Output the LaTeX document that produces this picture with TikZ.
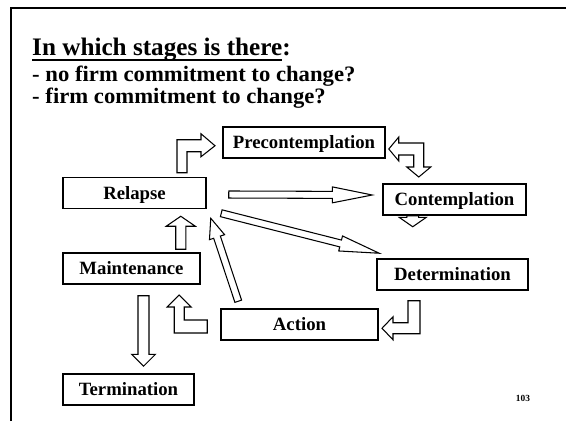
\documentclass[tikz,border=0pt]{standalone}
\usepackage{fontspec}
\setmainfont{Liberation Serif}
\newfontfamily\questfont{Liberation Serif}[FakeStretch=1.03]
\usetikzlibrary{calc}

% hollow straight arrow: from, to, shaft half width, head half width, head length
\newcommand{\hollowarrow}[5]{%
  \path ($(#2)!#5!(#1)$) coordinate (hb);
  \draw[blockarrow] ($(#1)!#3!90:(#2)$) -- ($(hb)!#3!90:(#2)$) -- ($(hb)!#4!90:(#2)$) -- (#2)
    -- ($(hb)!#4!-90:(#2)$) -- ($(hb)!#3!-90:(#2)$) -- ($(#1)!#3!-90:(#2)$) -- cycle;
}

\begin{document}
\begin{tikzpicture}[x=0.03cm, y=-0.03cm,
  stage/.style={draw, line width=1.3pt, minimum height=0.93cm, inner sep=0pt, text height=11pt, text depth=0pt, font=\fontsize{16}{18}\selectfont\bfseries},
  heading/.style={anchor=base west, inner sep=0pt, text depth=0pt},
  blockarrow/.style={draw, line width=0.9pt, fill=white, line join=miter}]

\useasboundingbox (0,0) rectangle (566,421);
\draw[line width=1.2pt] (11,421) -- (11,8) -- (566,8);

% QUESTION

\node[heading, font=\fontsize{21.5}{24}\selectfont\bfseries] (title) at (32,55) {In which stages is there:};
\draw[line width=1.5pt] ($(title.base west)+(0,5)$) -- ($(title.base east)+(-8.4,5)$);
\node[heading, font=\questfont\fontsize{18.8}{21}\selectfont\bfseries] (nofirm) at (32,81) {- no firm commitment to change?};
\node[heading, font=\questfont\fontsize{18.8}{21}\selectfont\bfseries] (firm) at (32,103) {- firm commitment to change?};

% STAGES

\node[stage, minimum width=4.86cm] (pre) at (304,142.5) {Precontemplation};
\node[stage, minimum width=4.29cm] (rel) at (134.5,193) {Relapse};
\node[stage, minimum width=4.29cm] (con) at (454.5,199.5) {Contemplation};
\node[stage, minimum width=4.53cm] (det) at (452.5,274.5) {Determination};
\node[stage, minimum width=4.71cm] (act) at (299.5,324.5) {Action};
\node[stage, minimum width=4.11cm] (mai) at (131.5,268.5) {Maintenance};
\node[stage, minimum width=3.93cm] (ter) at (128.5,389.5) {Termination};

\node[font=\fontsize{8}{9}\selectfont\bfseries] (page) at (523,398) {103};

% ARROWS

\coordinate (relcon1) at ($(rel.east)+(22,1.5)$);
\coordinate (relcon2) at ($(con.west)+(-10,-4.5)$);
\coordinate (reldet1) at ($(rel.south east)+(14.5,4)$);
\coordinate (reldet2) at ($(det.north west)+(3,-5)$);
\coordinate (actrel1) at ($(act.north west)+(18,-7)$);
\coordinate (actrel2) at ($(rel.south east)+(4,9)$);
\coordinate (mairel1) at ($(mai.north east)+(-20,-3)$);
\coordinate (mairel2) at ($(rel.south east)+(-26,7)$);
\coordinate (maiter1) at ($(mai.south)+(12,11)$);
\coordinate (maiter2) at ($(ter.north)+(15,-7)$);
\coordinate (condet1) at ($(con.south west)+(30.5,0)$);
\coordinate (condet2) at ($(con.south west)+(30.5,11)$);

\hollowarrow{relcon1}{relcon2}{3pt}{6.8pt}{34pt}
\hollowarrow{reldet1}{reldet2}{3pt}{6.6pt}{34pt}
\hollowarrow{actrel1}{actrel2}{3pt}{6.8pt}{17pt}
\hollowarrow{mairel1}{mairel2}{4.3pt}{12.4pt}{8.5pt}
\hollowarrow{maiter1}{maiter2}{4.7pt}{10.2pt}{10.2pt}
\hollowarrow{condet1}{condet2}{5pt}{11.5pt}{8pt}

\draw[blockarrow] ($(rel.north)+(42.5,-4)$) -- ++(0,-33) -- ++(24,0) -- ++(0,-6) -- ++(14,12) -- ++(-14,11) -- ++(0,-5) -- ++(-14,0) -- ++(0,21) -- cycle;

\draw[blockarrow] ($(pre.east)+(3,6.5)$) -- ++(10,-12) -- ++(0,6) -- ++(25,0) -- ++(0,24) -- ++(7,0) -- ++(-12,10) -- ++(-12,-10) -- ++(7,0) -- ++(0,-12) -- ++(-15,0) -- ++(0,6) -- cycle;

\draw[blockarrow] ($(det.south)+(-44.5,10)$) -- ++(12,0) -- ++(0,33) -- ++(-27,0) -- ++(0,6) -- ++(-11,-11.5) -- ++(11,-11.5) -- ++(0,6) -- ++(15,0) -- cycle;

\draw[blockarrow] ($(act.west)+(-13,-4.5)$) -- ++(-23,0) -- ++(0,-13) -- ++(7,0) -- ++(-12,-12) -- ++(-12,12) -- ++(7,0) -- ++(0,26) -- ++(33,0) -- cycle;

\end{tikzpicture}
\end{document}
